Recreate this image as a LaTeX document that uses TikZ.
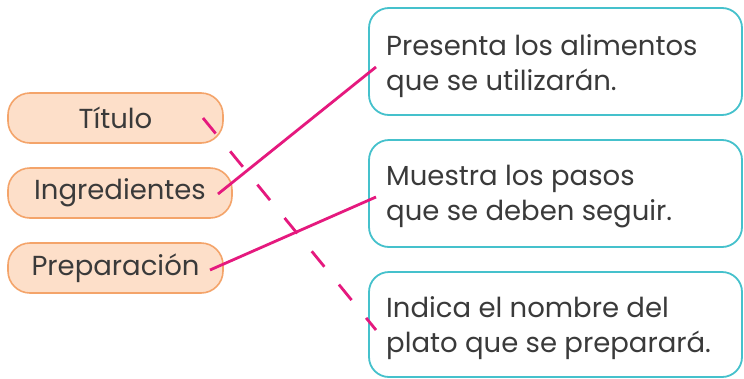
\documentclass[tikz,border=0pt]{standalone}
\usepackage{fontspec}
\setmainfont{Poppins}
\definecolor{peachfill}{HTML}{FDDFC9}
\definecolor{peachline}{HTML}{F4A46A}
\definecolor{tealline}{HTML}{45C1CC}
\definecolor{pinkline}{HTML}{E5197E}
\definecolor{txtgray}{HTML}{3A3A3A}
\begin{document}
\begin{tikzpicture}[x=1pt,y=-1pt,
  leftbox/.style={draw=peachline,fill=peachfill,line width=1.6pt,rounded corners=22pt,
    minimum height=50pt,inner sep=0pt,text=txtgray,font=\fontsize{27.5}{32}\selectfont},
  rightbox/.style={draw=tealline,line width=1.8pt,rounded corners=20pt,inner sep=0pt},
  txt/.style={anchor=base west,inner sep=0pt,text=txtgray,font=\fontsize{27.5}{32}\selectfont},
  link/.style={draw=pinkline,line width=2.8pt},
  dlink/.style={link,dash pattern=on 20pt off 23pt}]
\useasboundingbox (0,0) rectangle (744,378);
\fill[white] (0,0) rectangle (744,378);
% left boxes
\node[leftbox,minimum width=215pt] (tit) at (115.5,118) {Título};
\node[leftbox,minimum width=224pt] (ing) at (120,193) {Ingredientes};
\node[leftbox,minimum width=215pt] (pre) at (115.5,268) {Preparación};
% right boxes
\node[rightbox,minimum width=373pt,minimum height=107pt] (r1) at (555.5,61.5) {};
\node[rightbox,minimum width=373pt,minimum height=107pt] (r2) at (555.5,193.5) {};
\node[rightbox,minimum width=373pt,minimum height=105pt] (r3) at (555.5,324.5) {};
\node[txt] (r1a) at (386,55) {Presenta los alimentos};
\node[txt] (r1b) at (386,90) {que se utilizarán.};
\node[txt] (r2a) at (386,185) {Muestra los pasos};
\node[txt] (r2b) at (386,220) {que se deben seguir.};
\node[txt] (r3a) at (386,317) {Indica el nombre del};
\node[txt] (r3b) at (386,352) {plato que se preparará.};
% connectors
\coordinate (ingE) at (218,194);
\coordinate (preE) at (210,270);
\coordinate (titE) at (203,118);
\coordinate (r1W) at (376,67);
\coordinate (r2W) at (376,197);
\coordinate (r3W) at (376,330);
\draw[link] (ingE) -- (r1W);
\draw[link] (preE) -- (r2W);
\draw[dlink] (titE) -- (r3W);
\end{tikzpicture}
\end{document}
